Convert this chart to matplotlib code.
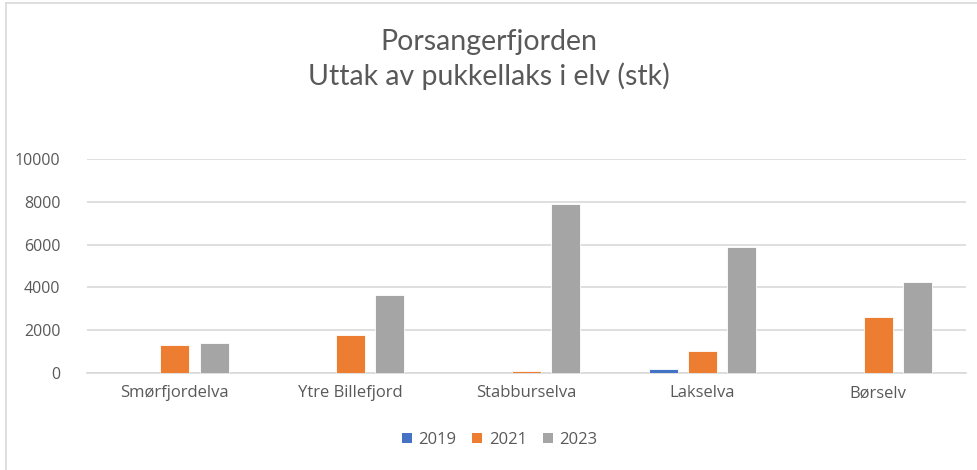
import matplotlib
matplotlib.use("Agg")
import matplotlib.pyplot as plt
import numpy as np
from matplotlib.lines import Line2D
from matplotlib.patches import Patch

categories = ["Smørfjordelva", "Ytre Billefjord", "Stabburselva", "Lakselva", "Børselv"]
years = ["2019", "2021", "2023"]
v2019 = [0, 0, 0, 160, 0]
v2021 = [1310, 1770, 70, 1010, 2630]
v2023 = [1390, 3625, 7900, 5880, 4240]
colors = ["#4472C4", "#ED7D31", "#A5A5A5"]

plt.rcParams['font.family'] = ['Open Sans', 'DejaVu Sans']
fig = plt.figure(figsize=(9.78, 4.70), dpi=100)
ax = fig.add_axes([87/978, 1-372.7/470, (966-87)/978, (372.7-159.3)/470])

x = np.arange(len(categories))
w = 0.166
step = 0.223
for i, (vals, c) in enumerate(zip([v2019, v2021, v2023], colors)):
    ax.bar(x + (i-1)*step, vals, width=w, color=c, edgecolor='white', linewidth=0.6, zorder=3)

ax.set_xlim(-0.5, len(categories)-0.5)
ax.set_ylim(0, 10000)
ax.set_yticks(np.arange(0, 10001, 2000))
ax.yaxis.grid(True, color='#D9D9D9', linewidth=1.2, zorder=0)
for s in ['top', 'right', 'left']:
    ax.spines[s].set_visible(False)
ax.spines['bottom'].set_color('#D9D9D9')
ax.spines['bottom'].set_linewidth(1.2)
ax.tick_params(axis='both', length=0, colors='#595959')
ax.tick_params(axis='y', pad=19, labelsize=11.5)
ax.tick_params(axis='x', pad=9, labelsize=12)
ax.set_xticks(x)
ax.set_xticklabels(categories)

fig.text(0.5, 1-42/470, "Porsangerfjorden", ha='center', va='center', fontsize=20.5,
         color='#595959', family=['Lato', 'DejaVu Sans'])
fig.text(0.5, 1-76/470, "Uttak av pukkellaks i elv (stk)", ha='center', va='center', fontsize=20.5,
         color='#595959', family=['Lato', 'DejaVu Sans'])

handles = [Patch(facecolor=c, edgecolor='none') for c in colors]
fig.legend(handles, years, loc='center', bbox_to_anchor=(0.511, 1-440/470), ncol=3, frameon=False,
           fontsize=12, labelcolor='#595959', handlelength=0.6, handleheight=0.6, handletextpad=0.4,
           columnspacing=0.95)

fig.add_artist(Line2D([6/978, 6/978], [0, 1-3/470], color='#D9D9D9', linewidth=1.2, transform=fig.transFigure))
fig.add_artist(Line2D([6/978, 1], [1-3/470, 1-3/470], color='#D9D9D9', linewidth=1.2, transform=fig.transFigure))

fig.savefig("out.png", dpi=100)
